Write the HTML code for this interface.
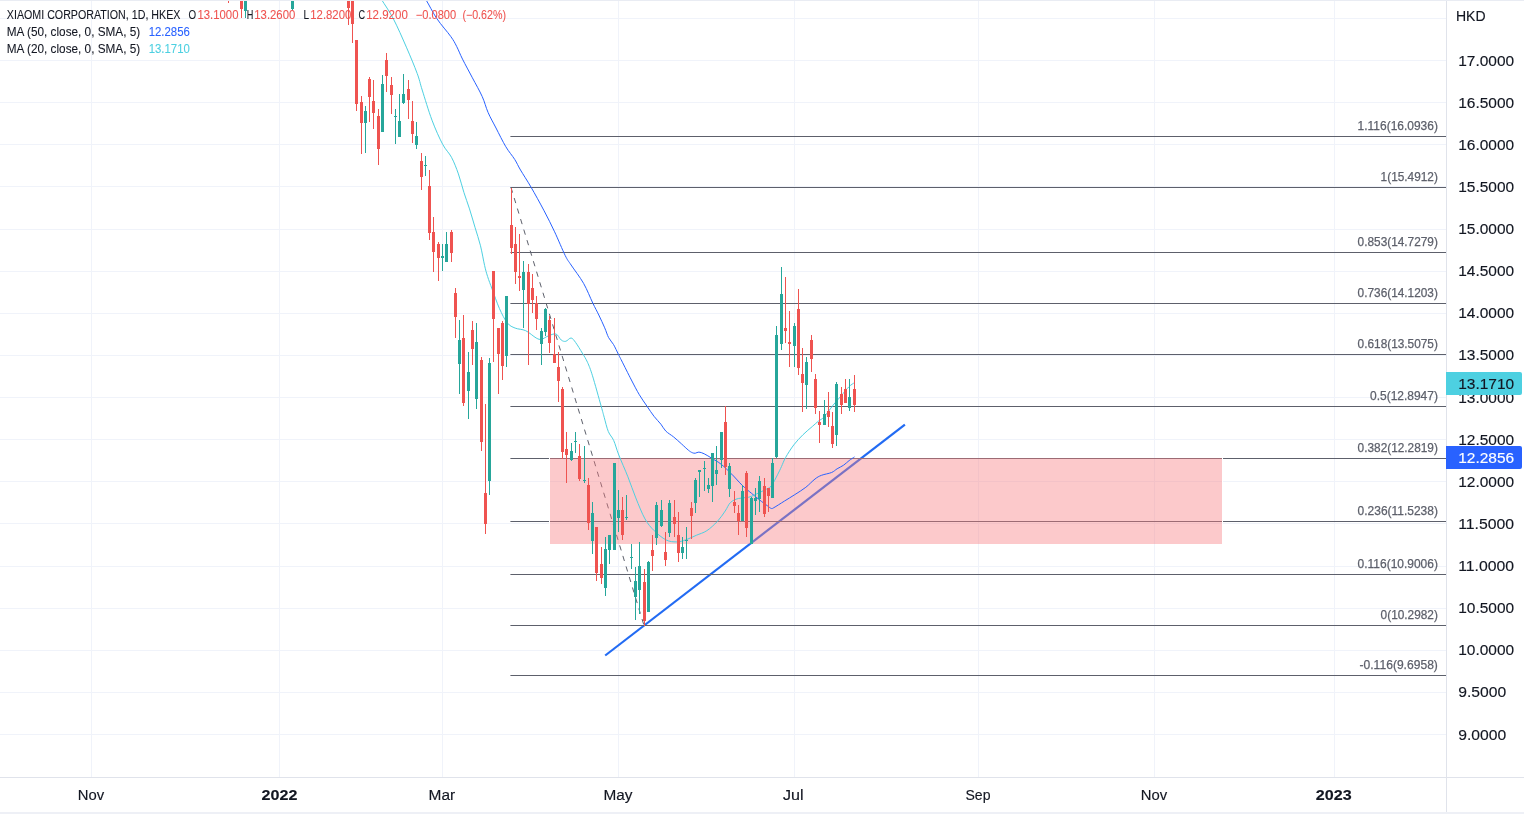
<!DOCTYPE html>
<html><head><meta charset="utf-8"><title>XIAOMI CORPORATION 1D HKEX</title>
<style>
html,body{margin:0;padding:0;background:#fff;}
body{width:1524px;height:814px;overflow:hidden;position:relative;font-family:"Liberation Sans",sans-serif;}
svg{position:absolute;left:0;top:0;display:block;will-change:transform;}
text{font-family:"Liberation Sans",sans-serif;}
.ax{font-size:15.5px;fill:#131722;stroke:#131722;stroke-width:0.15px;}
.lg{font-size:12px;fill:#131722;stroke:#131722;stroke-width:0.08px;}
.fb{font-size:12.5px;fill:#5d606b;stroke:#5d606b;stroke-width:0.25px;}
</style></head><body>
<svg width="1524" height="814" viewBox="0 0 1524 814">
<rect x="0" y="0" width="1524" height="814" fill="#ffffff"/>
<g shape-rendering="crispEdges" fill="#f0f3fa">
<rect x="0" y="18" width="1446" height="1"/>
<rect x="0" y="60" width="1446" height="1"/>
<rect x="0" y="102" width="1446" height="1"/>
<rect x="0" y="144" width="1446" height="1"/>
<rect x="0" y="186" width="1446" height="1"/>
<rect x="0" y="229" width="1446" height="1"/>
<rect x="0" y="271" width="1446" height="1"/>
<rect x="0" y="313" width="1446" height="1"/>
<rect x="0" y="355" width="1446" height="1"/>
<rect x="0" y="397" width="1446" height="1"/>
<rect x="0" y="439" width="1446" height="1"/>
<rect x="0" y="481" width="1446" height="1"/>
<rect x="0" y="523" width="1446" height="1"/>
<rect x="0" y="566" width="1446" height="1"/>
<rect x="0" y="608" width="1446" height="1"/>
<rect x="0" y="650" width="1446" height="1"/>
<rect x="0" y="692" width="1446" height="1"/>
<rect x="0" y="734" width="1446" height="1"/>
<rect x="91" y="0" width="1" height="777"/>
<rect x="279" y="0" width="1" height="777"/>
<rect x="442" y="0" width="1" height="777"/>
<rect x="618" y="0" width="1" height="777"/>
<rect x="794" y="0" width="1" height="777"/>
<rect x="978" y="0" width="1" height="777"/>
<rect x="1154" y="0" width="1" height="777"/>
<rect x="1334" y="0" width="1" height="777"/>
</g>
<line x1="605.2" y1="655.5" x2="904.9" y2="424.6" stroke="#226bf3" stroke-width="2.2" stroke-linecap="butt"/>
<g fill="#5d606b">
<rect x="510.4" y="136" width="935.6" height="1"/>
<rect x="510.4" y="187" width="935.6" height="1"/>
<rect x="510.4" y="252" width="935.6" height="1"/>
<rect x="510.4" y="303" width="935.6" height="1"/>
<rect x="510.4" y="354" width="935.6" height="1"/>
<rect x="510.4" y="406" width="935.6" height="1"/>
<rect x="510.4" y="458" width="935.6" height="1"/>
<rect x="510.4" y="521" width="935.6" height="1"/>
<rect x="510.4" y="574" width="935.6" height="1"/>
<rect x="510.4" y="625" width="935.6" height="1"/>
<rect x="510.4" y="675" width="935.6" height="1"/>
</g>
<line x1="511.0" y1="187.5" x2="644.0" y2="625.5" stroke="#5d606b" stroke-width="1" stroke-dasharray="5.3 5.7"/>
<g shape-rendering="crispEdges">
<rect x="550" y="458" width="672" height="86" fill="rgba(247,124,128,0.41)"/>
<rect x="549" y="458" width="1" height="86" fill="#ffffff"/>
<rect x="1222" y="458" width="1" height="86" fill="#ffffff"/>
</g>
<path d="M420.50,-8.00 C421.43,-6.67 423.37,-4.45 426.10,0.00 C428.83,4.45 432.80,12.63 436.90,18.70 C441.00,24.77 447.42,31.80 450.70,36.40 C453.98,41.00 454.63,42.52 456.60,46.30 C458.57,50.08 459.87,53.85 462.50,59.10 C465.13,64.35 469.12,71.57 472.40,77.80 C475.68,84.03 479.58,90.72 482.20,96.50 C484.82,102.28 485.80,107.25 488.10,112.50 C490.40,117.75 493.05,122.30 496.00,128.00 C498.95,133.70 502.68,141.47 505.80,146.70 C508.92,151.93 512.25,155.52 514.70,159.40 C517.15,163.28 517.78,165.38 520.50,170.00 C523.22,174.62 527.07,180.30 531.00,187.10 C534.93,193.90 540.17,203.35 544.10,210.80 C548.03,218.25 551.08,224.35 554.60,231.80 C558.12,239.25 562.45,249.97 565.20,255.50 C567.95,261.03 568.03,260.35 571.10,265.00 C574.17,269.65 579.98,277.05 583.60,283.40 C587.22,289.75 590.27,297.83 592.80,303.10 C595.33,308.37 596.82,310.88 598.80,315.00 C600.78,319.12 603.07,324.03 604.70,327.80 C606.33,331.57 607.13,334.82 608.60,337.60 C610.07,340.38 611.87,341.72 613.50,344.50 C615.13,347.28 617.02,351.55 618.40,354.30 C619.78,357.05 619.63,356.72 621.80,361.00 C623.97,365.28 628.48,374.38 631.40,380.00 C634.32,385.62 636.67,390.28 639.30,394.70 C641.93,399.12 644.75,402.90 647.20,406.50 C649.65,410.10 651.72,413.35 654.00,416.30 C656.28,419.25 658.93,421.73 660.90,424.20 C662.87,426.67 663.67,428.97 665.80,431.10 C667.93,433.23 671.08,434.87 673.70,437.00 C676.32,439.13 679.05,441.70 681.50,443.90 C683.95,446.10 686.60,448.73 688.40,450.20 C690.20,451.67 691.15,452.20 692.30,452.70 C693.45,453.20 694.20,453.30 695.30,453.20 C696.40,453.10 697.42,452.00 698.90,452.10 C700.38,452.20 702.02,452.75 704.20,453.80 C706.38,454.85 709.17,456.65 712.00,458.40 C714.83,460.15 717.90,461.67 721.20,464.30 C724.50,466.93 728.28,470.68 731.80,474.20 C735.32,477.72 739.02,482.22 742.30,485.40 C745.58,488.58 748.65,490.90 751.50,493.30 C754.35,495.70 756.77,497.73 759.40,499.80 C762.03,501.87 765.33,504.27 767.30,505.70 C769.27,507.13 770.12,508.07 771.20,508.40 C772.28,508.73 771.60,508.92 773.80,507.70 C776.00,506.48 780.92,503.27 784.40,501.10 C787.88,498.93 791.13,497.00 794.70,494.70 C798.27,492.40 802.42,489.92 805.80,487.30 C809.18,484.68 812.38,481.00 815.00,479.00 C817.62,477.00 818.73,476.38 821.50,475.30 C824.27,474.22 829.00,473.58 831.60,472.50 C834.20,471.42 835.10,470.02 837.10,468.80 C839.10,467.58 841.60,466.57 843.60,465.20 C845.60,463.83 847.28,461.98 849.10,460.60 C850.92,459.22 853.60,457.52 854.50,456.90" fill="none" stroke="#2962ff" stroke-width="1.0" stroke-linejoin="round"/>
<path d="M376.90,-8.00 C377.72,-6.67 379.07,-4.45 381.80,0.00 C384.53,4.45 389.20,10.83 393.30,18.70 C397.40,26.57 402.42,38.07 406.40,47.20 C410.38,56.33 414.57,66.37 417.20,73.50 C419.83,80.63 419.73,82.22 422.20,90.00 C424.67,97.78 428.60,111.17 432.00,120.20 C435.40,129.23 439.35,138.02 442.60,144.20 C445.85,150.38 448.87,152.35 451.50,157.30 C454.13,162.25 456.33,168.05 458.40,173.90 C460.47,179.75 462.05,186.57 463.90,192.40 C465.75,198.23 467.65,203.08 469.50,208.90 C471.35,214.72 473.17,221.15 475.00,227.30 C476.83,233.45 478.90,239.43 480.50,245.80 C482.10,252.17 483.42,260.38 484.60,265.50 C485.78,270.62 486.33,272.53 487.60,276.50 C488.87,280.47 490.23,283.98 492.20,289.30 C494.17,294.62 496.88,302.80 499.40,308.40 C501.92,314.00 504.67,319.62 507.30,322.90 C509.93,326.18 512.13,326.80 515.20,328.10 C518.27,329.40 522.20,329.05 525.70,330.70 C529.20,332.35 533.57,336.57 536.20,338.00 C538.83,339.43 539.52,339.63 541.50,339.30 C543.48,338.97 545.68,336.88 548.10,336.00 C550.52,335.12 553.82,333.33 556.00,334.00 C558.18,334.67 559.57,338.78 561.20,340.00 C562.83,341.22 564.15,341.63 565.80,341.30 C567.45,340.97 569.45,337.78 571.10,338.00 C572.75,338.22 573.83,340.08 575.70,342.60 C577.57,345.12 580.33,349.82 582.30,353.10 C584.27,356.38 585.80,358.52 587.50,362.30 C589.20,366.08 590.23,368.52 592.50,375.80 C594.77,383.08 599.15,399.08 601.10,406.00 C603.05,412.92 603.00,413.05 604.20,417.30 C605.40,421.55 606.72,427.63 608.30,431.50 C609.88,435.37 611.95,436.58 613.70,440.50 C615.45,444.42 616.43,448.95 618.80,455.00 C621.17,461.05 625.07,469.65 627.90,476.80 C630.73,483.95 632.95,490.88 635.80,497.90 C638.65,504.92 641.93,513.43 645.00,518.90 C648.07,524.37 650.70,527.20 654.20,530.70 C657.70,534.20 662.28,538.03 666.00,539.90 C669.72,541.77 673.22,541.90 676.50,541.90 C679.78,541.90 682.40,541.00 685.70,539.90 C689.00,538.80 692.78,536.83 696.30,535.30 C699.82,533.77 703.30,533.00 706.80,530.70 C710.30,528.40 714.23,524.78 717.30,521.50 C720.37,518.22 723.00,514.17 725.20,511.00 C727.40,507.83 728.32,504.58 730.50,502.50 C732.68,500.42 735.23,499.38 738.30,498.50 C741.37,497.62 745.83,497.97 748.90,497.20 C751.97,496.43 754.08,495.10 756.70,493.90 C759.32,492.70 762.18,491.32 764.60,490.00 C767.02,488.68 769.00,488.63 771.20,486.00 C773.40,483.37 776.08,477.45 777.80,474.20 C779.52,470.95 780.20,469.28 781.50,466.50 C782.80,463.72 783.55,461.10 785.60,457.50 C787.65,453.90 790.90,448.70 793.80,444.90 C796.70,441.10 799.92,437.77 803.00,434.70 C806.08,431.63 809.68,428.80 812.30,426.50 C814.92,424.20 816.77,422.47 818.70,420.90 C820.63,419.33 821.50,419.72 823.90,417.10 C826.30,414.48 830.25,408.72 833.10,405.20 C835.95,401.68 838.37,399.07 841.00,396.00 C843.63,392.93 846.65,389.03 848.90,386.80 C851.15,384.57 853.57,383.30 854.50,382.60" fill="none" stroke="#4dd0e1" stroke-width="1.0" stroke-linejoin="round"/>
<g shape-rendering="crispEdges">
<rect x="228" y="-5" width="1" height="8" fill="#ef5350"/>
<rect x="227" y="-5" width="3" height="1" fill="#ef5350"/>
<rect x="241" y="-5" width="1" height="23" fill="#ef5350"/>
<rect x="240" y="-5" width="3" height="14" fill="#ef5350"/>
<rect x="245" y="-5" width="1" height="23" fill="#26a69a"/>
<rect x="244" y="-5" width="3" height="16" fill="#26a69a"/>
<rect x="292" y="-5" width="1" height="15" fill="#26a69a"/>
<rect x="291" y="-5" width="3" height="14" fill="#26a69a"/>
<rect x="348" y="-5" width="1" height="30" fill="#ef5350"/>
<rect x="347" y="-5" width="3" height="13" fill="#ef5350"/>
<rect x="352" y="-5" width="1" height="48" fill="#ef5350"/>
<rect x="351" y="-5" width="3" height="29" fill="#ef5350"/>
<rect x="356" y="40" width="1" height="71" fill="#ef5350"/>
<rect x="355" y="40" width="3" height="64" fill="#ef5350"/>
<rect x="361" y="96" width="1" height="58" fill="#ef5350"/>
<rect x="360" y="102" width="3" height="21" fill="#ef5350"/>
<rect x="365" y="106" width="1" height="47" fill="#26a69a"/>
<rect x="364" y="111" width="3" height="12" fill="#26a69a"/>
<rect x="369" y="77" width="1" height="45" fill="#ef5350"/>
<rect x="368" y="79" width="3" height="18" fill="#ef5350"/>
<rect x="373" y="80" width="1" height="49" fill="#ef5350"/>
<rect x="372" y="101" width="3" height="12" fill="#ef5350"/>
<rect x="378" y="109" width="1" height="56" fill="#ef5350"/>
<rect x="377" y="116" width="3" height="33" fill="#ef5350"/>
<rect x="382" y="75" width="1" height="57" fill="#26a69a"/>
<rect x="381" y="84" width="3" height="48" fill="#26a69a"/>
<rect x="386" y="53" width="1" height="39" fill="#ef5350"/>
<rect x="385" y="60" width="3" height="16" fill="#ef5350"/>
<rect x="391" y="77" width="1" height="37" fill="#ef5350"/>
<rect x="390" y="85" width="3" height="10" fill="#ef5350"/>
<rect x="395" y="109" width="1" height="35" fill="#26a69a"/>
<rect x="394" y="116" width="3" height="1" fill="#26a69a"/>
<rect x="399" y="94" width="1" height="43" fill="#26a69a"/>
<rect x="398" y="121" width="3" height="16" fill="#26a69a"/>
<rect x="403" y="74" width="1" height="30" fill="#26a69a"/>
<rect x="402" y="94" width="3" height="9" fill="#26a69a"/>
<rect x="408" y="80" width="1" height="39" fill="#ef5350"/>
<rect x="407" y="89" width="3" height="11" fill="#ef5350"/>
<rect x="412" y="101" width="1" height="42" fill="#ef5350"/>
<rect x="411" y="121" width="3" height="13" fill="#ef5350"/>
<rect x="416" y="122" width="1" height="27" fill="#26a69a"/>
<rect x="415" y="136" width="3" height="9" fill="#26a69a"/>
<rect x="421" y="153" width="1" height="37" fill="#ef5350"/>
<rect x="420" y="161" width="3" height="16" fill="#ef5350"/>
<rect x="425" y="156" width="1" height="20" fill="#26a69a"/>
<rect x="424" y="165" width="3" height="1" fill="#26a69a"/>
<rect x="429" y="170" width="1" height="70" fill="#ef5350"/>
<rect x="428" y="186" width="3" height="47" fill="#ef5350"/>
<rect x="433" y="217" width="1" height="55" fill="#ef5350"/>
<rect x="432" y="232" width="3" height="20" fill="#ef5350"/>
<rect x="438" y="242" width="1" height="39" fill="#ef5350"/>
<rect x="437" y="244" width="3" height="14" fill="#ef5350"/>
<rect x="442" y="244" width="1" height="27" fill="#26a69a"/>
<rect x="441" y="256" width="3" height="2" fill="#26a69a"/>
<rect x="446" y="232" width="1" height="30" fill="#26a69a"/>
<rect x="445" y="244" width="3" height="18" fill="#26a69a"/>
<rect x="451" y="230" width="1" height="32" fill="#ef5350"/>
<rect x="450" y="232" width="3" height="21" fill="#ef5350"/>
<rect x="455" y="288" width="1" height="50" fill="#ef5350"/>
<rect x="454" y="293" width="3" height="24" fill="#ef5350"/>
<rect x="459" y="320" width="1" height="74" fill="#26a69a"/>
<rect x="458" y="340" width="3" height="24" fill="#26a69a"/>
<rect x="463" y="315" width="1" height="91" fill="#ef5350"/>
<rect x="462" y="338" width="3" height="65" fill="#ef5350"/>
<rect x="468" y="352" width="1" height="67" fill="#26a69a"/>
<rect x="467" y="372" width="3" height="19" fill="#26a69a"/>
<rect x="472" y="321" width="1" height="44" fill="#ef5350"/>
<rect x="471" y="330" width="3" height="19" fill="#ef5350"/>
<rect x="476" y="323" width="1" height="86" fill="#26a69a"/>
<rect x="475" y="342" width="3" height="57" fill="#26a69a"/>
<rect x="481" y="357" width="1" height="94" fill="#ef5350"/>
<rect x="480" y="360" width="3" height="82" fill="#ef5350"/>
<rect x="485" y="404" width="1" height="130" fill="#ef5350"/>
<rect x="484" y="493" width="3" height="31" fill="#ef5350"/>
<rect x="489" y="358" width="1" height="137" fill="#26a69a"/>
<rect x="488" y="363" width="3" height="118" fill="#26a69a"/>
<rect x="493" y="271" width="1" height="91" fill="#ef5350"/>
<rect x="492" y="271" width="3" height="48" fill="#ef5350"/>
<rect x="498" y="328" width="1" height="66" fill="#ef5350"/>
<rect x="497" y="328" width="3" height="26" fill="#ef5350"/>
<rect x="502" y="321" width="1" height="59" fill="#ef5350"/>
<rect x="501" y="323" width="3" height="43" fill="#ef5350"/>
<rect x="506" y="296" width="1" height="71" fill="#26a69a"/>
<rect x="505" y="296" width="3" height="60" fill="#26a69a"/>
<rect x="511" y="188" width="1" height="66" fill="#ef5350"/>
<rect x="510" y="225" width="3" height="23" fill="#ef5350"/>
<rect x="515" y="227" width="1" height="57" fill="#ef5350"/>
<rect x="514" y="244" width="3" height="28" fill="#ef5350"/>
<rect x="519" y="234" width="1" height="57" fill="#ef5350"/>
<rect x="518" y="276" width="3" height="2" fill="#ef5350"/>
<rect x="523" y="261" width="1" height="67" fill="#26a69a"/>
<rect x="522" y="272" width="3" height="18" fill="#26a69a"/>
<rect x="528" y="264" width="1" height="101" fill="#ef5350"/>
<rect x="527" y="272" width="3" height="32" fill="#ef5350"/>
<rect x="532" y="274" width="1" height="39" fill="#ef5350"/>
<rect x="531" y="288" width="3" height="12" fill="#ef5350"/>
<rect x="536" y="296" width="1" height="34" fill="#ef5350"/>
<rect x="535" y="303" width="3" height="16" fill="#ef5350"/>
<rect x="541" y="328" width="1" height="37" fill="#26a69a"/>
<rect x="540" y="331" width="3" height="13" fill="#26a69a"/>
<rect x="545" y="308" width="1" height="28" fill="#26a69a"/>
<rect x="544" y="309" width="3" height="23" fill="#26a69a"/>
<rect x="549" y="316" width="1" height="37" fill="#ef5350"/>
<rect x="548" y="320" width="3" height="23" fill="#ef5350"/>
<rect x="554" y="318" width="1" height="45" fill="#ef5350"/>
<rect x="553" y="354" width="3" height="9" fill="#ef5350"/>
<rect x="558" y="352" width="1" height="50" fill="#ef5350"/>
<rect x="557" y="367" width="3" height="14" fill="#ef5350"/>
<rect x="562" y="387" width="1" height="72" fill="#ef5350"/>
<rect x="561" y="389" width="3" height="63" fill="#ef5350"/>
<rect x="566" y="432" width="1" height="51" fill="#ef5350"/>
<rect x="565" y="449" width="3" height="6" fill="#ef5350"/>
<rect x="571" y="443" width="1" height="18" fill="#26a69a"/>
<rect x="570" y="451" width="3" height="9" fill="#26a69a"/>
<rect x="575" y="432" width="1" height="21" fill="#26a69a"/>
<rect x="574" y="441" width="3" height="1" fill="#26a69a"/>
<rect x="579" y="444" width="1" height="37" fill="#ef5350"/>
<rect x="578" y="456" width="3" height="23" fill="#ef5350"/>
<rect x="584" y="446" width="1" height="37" fill="#26a69a"/>
<rect x="583" y="480" width="3" height="1" fill="#26a69a"/>
<rect x="588" y="478" width="1" height="52" fill="#ef5350"/>
<rect x="587" y="485" width="3" height="38" fill="#ef5350"/>
<rect x="592" y="502" width="1" height="52" fill="#26a69a"/>
<rect x="591" y="513" width="3" height="28" fill="#26a69a"/>
<rect x="596" y="527" width="1" height="54" fill="#ef5350"/>
<rect x="595" y="527" width="3" height="46" fill="#ef5350"/>
<rect x="601" y="547" width="1" height="37" fill="#ef5350"/>
<rect x="600" y="564" width="3" height="14" fill="#ef5350"/>
<rect x="605" y="537" width="1" height="59" fill="#26a69a"/>
<rect x="604" y="549" width="3" height="39" fill="#26a69a"/>
<rect x="609" y="535" width="1" height="29" fill="#26a69a"/>
<rect x="608" y="535" width="3" height="15" fill="#26a69a"/>
<rect x="614" y="463" width="1" height="87" fill="#26a69a"/>
<rect x="613" y="463" width="3" height="87" fill="#26a69a"/>
<rect x="618" y="490" width="1" height="42" fill="#26a69a"/>
<rect x="617" y="510" width="3" height="8" fill="#26a69a"/>
<rect x="622" y="497" width="1" height="43" fill="#ef5350"/>
<rect x="621" y="510" width="3" height="25" fill="#ef5350"/>
<rect x="626" y="495" width="1" height="25" fill="#26a69a"/>
<rect x="625" y="517" width="3" height="1" fill="#26a69a"/>
<rect x="631" y="544" width="1" height="25" fill="#26a69a"/>
<rect x="630" y="557" width="3" height="1" fill="#26a69a"/>
<rect x="635" y="567" width="1" height="53" fill="#26a69a"/>
<rect x="634" y="581" width="3" height="16" fill="#26a69a"/>
<rect x="639" y="542" width="1" height="72" fill="#26a69a"/>
<rect x="638" y="566" width="3" height="24" fill="#26a69a"/>
<rect x="644" y="569" width="1" height="57" fill="#ef5350"/>
<rect x="643" y="582" width="3" height="39" fill="#ef5350"/>
<rect x="648" y="561" width="1" height="51" fill="#26a69a"/>
<rect x="647" y="562" width="3" height="50" fill="#26a69a"/>
<rect x="652" y="535" width="1" height="36" fill="#ef5350"/>
<rect x="651" y="550" width="3" height="6" fill="#ef5350"/>
<rect x="656" y="502" width="1" height="43" fill="#26a69a"/>
<rect x="655" y="505" width="3" height="33" fill="#26a69a"/>
<rect x="661" y="500" width="1" height="27" fill="#26a69a"/>
<rect x="660" y="510" width="3" height="16" fill="#26a69a"/>
<rect x="665" y="532" width="1" height="34" fill="#ef5350"/>
<rect x="664" y="552" width="3" height="8" fill="#ef5350"/>
<rect x="669" y="500" width="1" height="37" fill="#26a69a"/>
<rect x="668" y="503" width="3" height="30" fill="#26a69a"/>
<rect x="674" y="500" width="1" height="37" fill="#ef5350"/>
<rect x="673" y="517" width="3" height="7" fill="#ef5350"/>
<rect x="678" y="512" width="1" height="50" fill="#ef5350"/>
<rect x="677" y="535" width="3" height="18" fill="#ef5350"/>
<rect x="682" y="537" width="1" height="22" fill="#26a69a"/>
<rect x="681" y="547" width="3" height="6" fill="#26a69a"/>
<rect x="686" y="527" width="1" height="32" fill="#26a69a"/>
<rect x="685" y="540" width="3" height="1" fill="#26a69a"/>
<rect x="691" y="502" width="1" height="37" fill="#ef5350"/>
<rect x="690" y="508" width="3" height="8" fill="#ef5350"/>
<rect x="695" y="478" width="1" height="35" fill="#26a69a"/>
<rect x="694" y="480" width="3" height="23" fill="#26a69a"/>
<rect x="699" y="470" width="1" height="27" fill="#26a69a"/>
<rect x="698" y="470" width="3" height="2" fill="#26a69a"/>
<rect x="704" y="461" width="1" height="30" fill="#26a69a"/>
<rect x="703" y="468" width="3" height="1" fill="#26a69a"/>
<rect x="708" y="478" width="1" height="15" fill="#26a69a"/>
<rect x="707" y="485" width="3" height="4" fill="#26a69a"/>
<rect x="712" y="453" width="1" height="49" fill="#26a69a"/>
<rect x="711" y="453" width="3" height="33" fill="#26a69a"/>
<rect x="716" y="446" width="1" height="39" fill="#26a69a"/>
<rect x="715" y="470" width="3" height="4" fill="#26a69a"/>
<rect x="721" y="432" width="1" height="36" fill="#26a69a"/>
<rect x="720" y="432" width="3" height="28" fill="#26a69a"/>
<rect x="725" y="406" width="1" height="69" fill="#ef5350"/>
<rect x="724" y="422" width="3" height="45" fill="#ef5350"/>
<rect x="729" y="463" width="1" height="34" fill="#26a69a"/>
<rect x="728" y="466" width="3" height="23" fill="#26a69a"/>
<rect x="734" y="491" width="1" height="22" fill="#ef5350"/>
<rect x="733" y="502" width="3" height="4" fill="#ef5350"/>
<rect x="738" y="505" width="1" height="30" fill="#ef5350"/>
<rect x="737" y="513" width="3" height="8" fill="#ef5350"/>
<rect x="742" y="485" width="1" height="36" fill="#26a69a"/>
<rect x="741" y="491" width="3" height="30" fill="#26a69a"/>
<rect x="746" y="471" width="1" height="66" fill="#ef5350"/>
<rect x="745" y="473" width="3" height="55" fill="#ef5350"/>
<rect x="751" y="497" width="1" height="47" fill="#26a69a"/>
<rect x="750" y="498" width="3" height="46" fill="#26a69a"/>
<rect x="755" y="488" width="1" height="27" fill="#26a69a"/>
<rect x="754" y="498" width="3" height="3" fill="#26a69a"/>
<rect x="759" y="476" width="1" height="36" fill="#26a69a"/>
<rect x="758" y="481" width="3" height="18" fill="#26a69a"/>
<rect x="764" y="478" width="1" height="39" fill="#ef5350"/>
<rect x="763" y="486" width="3" height="28" fill="#ef5350"/>
<rect x="768" y="488" width="1" height="24" fill="#ef5350"/>
<rect x="767" y="488" width="3" height="8" fill="#ef5350"/>
<rect x="772" y="458" width="1" height="40" fill="#26a69a"/>
<rect x="771" y="463" width="3" height="35" fill="#26a69a"/>
<rect x="776" y="326" width="1" height="132" fill="#26a69a"/>
<rect x="775" y="335" width="3" height="122" fill="#26a69a"/>
<rect x="781" y="267" width="1" height="83" fill="#26a69a"/>
<rect x="780" y="294" width="3" height="50" fill="#26a69a"/>
<rect x="785" y="277" width="1" height="66" fill="#ef5350"/>
<rect x="784" y="328" width="3" height="3" fill="#ef5350"/>
<rect x="789" y="311" width="1" height="56" fill="#ef5350"/>
<rect x="788" y="342" width="3" height="2" fill="#ef5350"/>
<rect x="794" y="323" width="1" height="44" fill="#26a69a"/>
<rect x="793" y="326" width="3" height="20" fill="#26a69a"/>
<rect x="798" y="289" width="1" height="86" fill="#ef5350"/>
<rect x="797" y="309" width="3" height="59" fill="#ef5350"/>
<rect x="802" y="348" width="1" height="64" fill="#ef5350"/>
<rect x="801" y="374" width="3" height="9" fill="#ef5350"/>
<rect x="806" y="357" width="1" height="52" fill="#26a69a"/>
<rect x="805" y="362" width="3" height="23" fill="#26a69a"/>
<rect x="811" y="335" width="1" height="37" fill="#ef5350"/>
<rect x="810" y="340" width="3" height="19" fill="#ef5350"/>
<rect x="815" y="374" width="1" height="40" fill="#ef5350"/>
<rect x="814" y="379" width="3" height="29" fill="#ef5350"/>
<rect x="819" y="411" width="1" height="32" fill="#ef5350"/>
<rect x="818" y="422" width="3" height="3" fill="#ef5350"/>
<rect x="824" y="400" width="1" height="25" fill="#26a69a"/>
<rect x="823" y="414" width="3" height="11" fill="#26a69a"/>
<rect x="828" y="392" width="1" height="35" fill="#ef5350"/>
<rect x="827" y="411" width="3" height="6" fill="#ef5350"/>
<rect x="832" y="412" width="1" height="36" fill="#ef5350"/>
<rect x="831" y="426" width="3" height="18" fill="#ef5350"/>
<rect x="836" y="382" width="1" height="64" fill="#26a69a"/>
<rect x="835" y="384" width="3" height="51" fill="#26a69a"/>
<rect x="841" y="387" width="1" height="27" fill="#ef5350"/>
<rect x="840" y="394" width="3" height="11" fill="#ef5350"/>
<rect x="845" y="379" width="1" height="24" fill="#ef5350"/>
<rect x="844" y="389" width="3" height="14" fill="#ef5350"/>
<rect x="849" y="379" width="1" height="32" fill="#26a69a"/>
<rect x="848" y="397" width="3" height="11" fill="#26a69a"/>
<rect x="854" y="375" width="1" height="37" fill="#ef5350"/>
<rect x="853" y="389" width="3" height="16" fill="#ef5350"/>
</g>
<text class="fb" x="1357.6" y="129.9" textLength="80.3" lengthAdjust="spacingAndGlyphs">1.116(16.0936)</text>
<text class="fb" x="1380.6" y="180.9" textLength="57.3" lengthAdjust="spacingAndGlyphs">1(15.4912)</text>
<text class="fb" x="1357.6" y="245.9" textLength="80.3" lengthAdjust="spacingAndGlyphs">0.853(14.7279)</text>
<text class="fb" x="1357.6" y="296.9" textLength="80.3" lengthAdjust="spacingAndGlyphs">0.736(14.1203)</text>
<text class="fb" x="1357.6" y="347.9" textLength="80.3" lengthAdjust="spacingAndGlyphs">0.618(13.5075)</text>
<text class="fb" x="1370.0" y="399.9" textLength="67.9" lengthAdjust="spacingAndGlyphs">0.5(12.8947)</text>
<text class="fb" x="1357.6" y="451.9" textLength="80.3" lengthAdjust="spacingAndGlyphs">0.382(12.2819)</text>
<text class="fb" x="1357.6" y="514.9" textLength="80.3" lengthAdjust="spacingAndGlyphs">0.236(11.5238)</text>
<text class="fb" x="1357.6" y="567.9" textLength="80.3" lengthAdjust="spacingAndGlyphs">0.116(10.9006)</text>
<text class="fb" x="1380.6" y="618.9" textLength="57.3" lengthAdjust="spacingAndGlyphs">0(10.2982)</text>
<text class="fb" x="1359.5" y="668.9" textLength="78.4" lengthAdjust="spacingAndGlyphs">-0.116(9.6958)</text>
<text class="lg" x="6.8" y="18.8" textLength="173.6" lengthAdjust="spacingAndGlyphs">XIAOMI CORPORATION, 1D, HKEX</text>
<text class="lg" x="188.4" y="18.8" textLength="7.6" lengthAdjust="spacingAndGlyphs">O</text>
<text class="lg" x="197.5" y="18.8" textLength="41.0" lengthAdjust="spacingAndGlyphs" style="fill:#ef5350;stroke:#ef5350">13.1000</text>
<text class="lg" x="246.8" y="18.8" textLength="6.6" lengthAdjust="spacingAndGlyphs">H</text>
<text class="lg" x="254.3" y="18.8" textLength="41.0" lengthAdjust="spacingAndGlyphs" style="fill:#ef5350;stroke:#ef5350">13.2600</text>
<text class="lg" x="303.6" y="18.8" textLength="5.6" lengthAdjust="spacingAndGlyphs">L</text>
<text class="lg" x="310.3" y="18.8" textLength="41.0" lengthAdjust="spacingAndGlyphs" style="fill:#ef5350;stroke:#ef5350">12.8200</text>
<text class="lg" x="358.5" y="18.8" textLength="6.6" lengthAdjust="spacingAndGlyphs">C</text>
<text class="lg" x="366.2" y="18.8" textLength="41.6" lengthAdjust="spacingAndGlyphs" style="fill:#ef5350;stroke:#ef5350">12.9200</text>
<text class="lg" x="415.8" y="18.8" textLength="40.4" lengthAdjust="spacingAndGlyphs" style="fill:#ef5350;stroke:#ef5350">−0.0800</text>
<text class="lg" x="462.4" y="18.8" textLength="43.6" lengthAdjust="spacingAndGlyphs" style="fill:#ef5350;stroke:#ef5350">(−0.62%)</text>
<text class="lg" x="6.8" y="35.7" textLength="133.4" lengthAdjust="spacingAndGlyphs">MA (50, close, 0, SMA, 5)</text>
<text class="lg" x="148.7" y="35.7" textLength="41.2" lengthAdjust="spacingAndGlyphs" style="fill:#2962ff;stroke:#2962ff">12.2856</text>
<text class="lg" x="6.8" y="52.6" textLength="133.4" lengthAdjust="spacingAndGlyphs">MA (20, close, 0, SMA, 5)</text>
<text class="lg" x="148.7" y="52.6" textLength="41.2" lengthAdjust="spacingAndGlyphs" style="fill:#4dd0e1;stroke:#4dd0e1">13.1710</text>
<rect x="1446" y="0" width="78" height="814" fill="#ffffff"/>
<rect x="1446" y="0" width="1" height="812" fill="#e0e3eb" shape-rendering="crispEdges"/>
<text class="ax" x="1458.2" y="66.0" textLength="55.9" lengthAdjust="spacingAndGlyphs">17.0000</text>
<text class="ax" x="1458.2" y="107.9" textLength="55.9" lengthAdjust="spacingAndGlyphs">16.5000</text>
<text class="ax" x="1458.2" y="149.8" textLength="55.9" lengthAdjust="spacingAndGlyphs">16.0000</text>
<text class="ax" x="1458.2" y="191.9" textLength="55.9" lengthAdjust="spacingAndGlyphs">15.5000</text>
<text class="ax" x="1458.2" y="233.8" textLength="55.9" lengthAdjust="spacingAndGlyphs">15.0000</text>
<text class="ax" x="1458.2" y="276.0" textLength="55.9" lengthAdjust="spacingAndGlyphs">14.5000</text>
<text class="ax" x="1458.2" y="317.8" textLength="55.9" lengthAdjust="spacingAndGlyphs">14.0000</text>
<text class="ax" x="1458.2" y="359.8" textLength="55.9" lengthAdjust="spacingAndGlyphs">13.5000</text>
<text class="ax" x="1458.2" y="403.1" textLength="55.9" lengthAdjust="spacingAndGlyphs">13.0000</text>
<text class="ax" x="1458.2" y="444.9" textLength="55.9" lengthAdjust="spacingAndGlyphs">12.5000</text>
<text class="ax" x="1458.2" y="486.9" textLength="55.9" lengthAdjust="spacingAndGlyphs">12.0000</text>
<text class="ax" x="1458.2" y="529.0" textLength="55.9" lengthAdjust="spacingAndGlyphs">11.5000</text>
<text class="ax" x="1458.2" y="571.0" textLength="55.9" lengthAdjust="spacingAndGlyphs">11.0000</text>
<text class="ax" x="1458.2" y="612.8" textLength="55.9" lengthAdjust="spacingAndGlyphs">10.5000</text>
<text class="ax" x="1458.2" y="654.8" textLength="55.9" lengthAdjust="spacingAndGlyphs">10.0000</text>
<text class="ax" x="1458.2" y="696.9" textLength="48.0" lengthAdjust="spacingAndGlyphs">9.5000</text>
<text class="ax" x="1458.2" y="739.8" textLength="48.0" lengthAdjust="spacingAndGlyphs">9.0000</text>
<text class="ax" x="1456.0" y="20.9" textLength="29.6" lengthAdjust="spacingAndGlyphs">HKD</text>
<path d="M1446 372 H1520 a2 2 0 0 1 2 2 V393 a2 2 0 0 1 -2 2 H1446 Z" fill="#4dd0e1"/>
<text class="ax" x="1458.2" y="389.0" textLength="55.9" lengthAdjust="spacingAndGlyphs" style="fill:#131722;stroke:#131722">13.1710</text>
<path d="M1446 446 H1520 a2 2 0 0 1 2 2 V467 a2 2 0 0 1 -2 2 H1446 Z" fill="#2962ff"/>
<text class="ax" x="1458.2" y="463.0" textLength="55.9" lengthAdjust="spacingAndGlyphs" style="fill:#ffffff;stroke:#ffffff">12.2856</text>
<rect x="0" y="777" width="1524" height="37" fill="#ffffff"/>
<rect x="0" y="777" width="1524" height="1" fill="#e0e3eb" shape-rendering="crispEdges"/>
<rect x="1446" y="777" width="1" height="35" fill="#e0e3eb" shape-rendering="crispEdges"/>
<text class="ax" x="77.7" y="800.2" textLength="26.4" lengthAdjust="spacingAndGlyphs">Nov</text>
<text class="ax" x="261.6" y="800.2" textLength="35.8" lengthAdjust="spacingAndGlyphs" font-weight="bold">2022</text>
<text class="ax" x="428.6" y="800.2" textLength="26.6" lengthAdjust="spacingAndGlyphs">Mar</text>
<text class="ax" x="603.4" y="800.2" textLength="29.0" lengthAdjust="spacingAndGlyphs">May</text>
<text class="ax" x="783.0" y="800.2" textLength="20.6" lengthAdjust="spacingAndGlyphs">Jul</text>
<text class="ax" x="965.5" y="800.2" textLength="25.0" lengthAdjust="spacingAndGlyphs">Sep</text>
<text class="ax" x="1140.8" y="800.2" textLength="26.4" lengthAdjust="spacingAndGlyphs">Nov</text>
<text class="ax" x="1315.8" y="800.2" textLength="35.8" lengthAdjust="spacingAndGlyphs" font-weight="bold">2023</text>
<rect x="0" y="0" width="1524" height="1" fill="#e9ecf3" shape-rendering="crispEdges"/>
<rect x="0" y="812" width="1524" height="2" fill="#eef0f6" shape-rendering="crispEdges"/>
</svg>
</body></html>
